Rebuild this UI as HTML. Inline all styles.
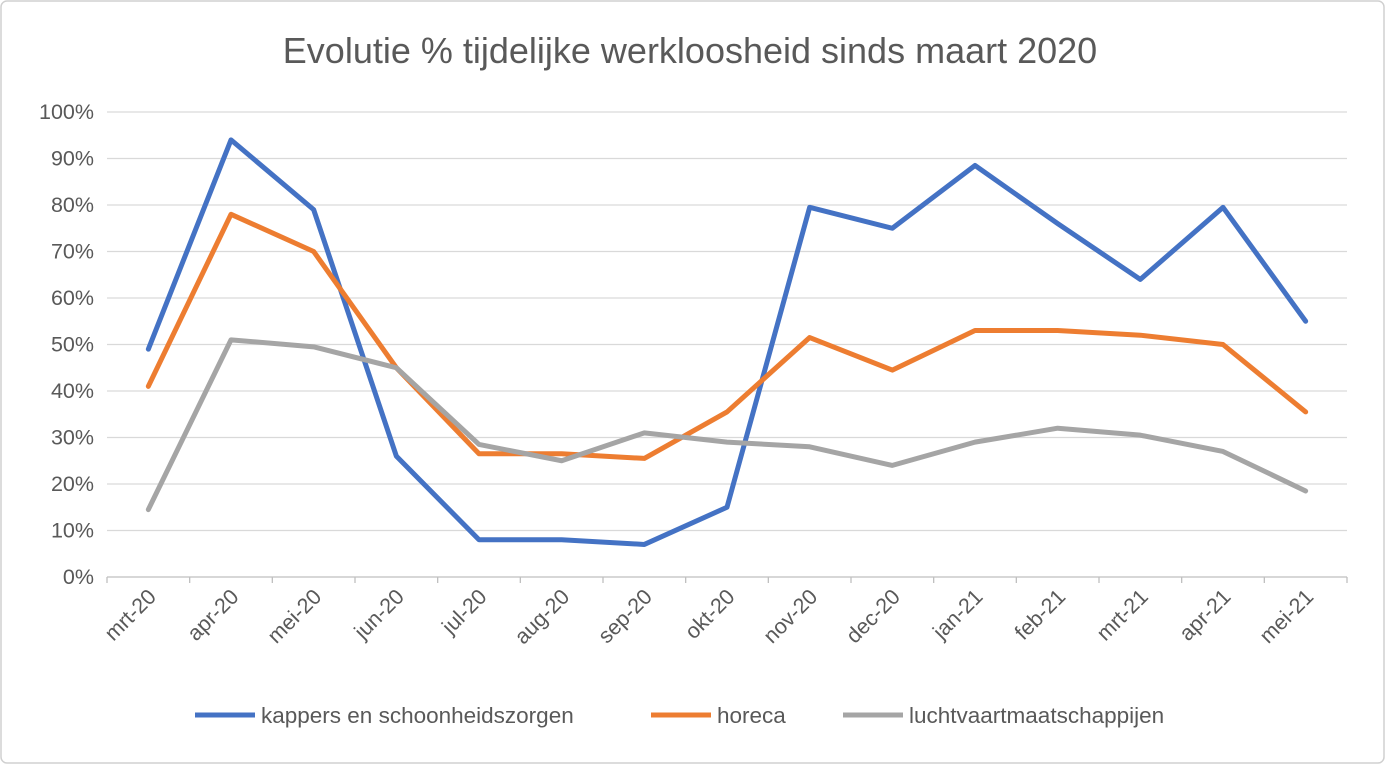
<!DOCTYPE html>
<html><head><meta charset="utf-8"><style>
html,body{margin:0;padding:0;background:#fff;}
svg{display:block;font-family:"Liberation Sans",Arial,sans-serif;}
</style></head><body>
<svg id="chart" width="1386" height="765">
<rect x="1" y="1" width="1383" height="762" rx="6" fill="#fff" stroke="#d0d0d0" stroke-width="1.5"/>
<text x="690" y="63" text-anchor="middle" font-size="36" fill="#595959">Evolutie % tijdelijke werkloosheid sinds maart 2020</text>
<g id="grid"></g>
<g id="yaxis"></g>
<g id="xaxis"></g>
<g id="series"></g>
<g id="legend"></g>
</svg>
<script>
const categories=["mrt-20","apr-20","mei-20","jun-20","jul-20","aug-20","sep-20","okt-20","nov-20","dec-20","jan-21","feb-21","mrt-21","apr-21","mei-21"];
const kappers=[49,94,79,26,8,8,7,15,79.5,75,88.5,76,64,79.5,55];
const horeca=[41,78,70,45,26.5,26.5,25.5,35.5,51.5,44.5,53,53,52,50,35.5];
const luchtvaart=[14.5,51,49.5,45,28.5,25,31,29,28,24,29,32,30.5,27,18.5];
const yTicks=[0,10,20,30,40,50,60,70,80,90,100];
const seriesNames=["kappers en schoonheidszorgen","horeca","luchtvaartmaatschappijen"];
const seriesColors=["#4472c4","#ed7d31","#a5a5a5"];

const NS="http://www.w3.org/2000/svg";
const L=107,R=1347,T=112,B=577;
const band=(R-L)/categories.length;
const x=i=>L+band*(i+0.5);
const y=v=>B-(v/100)*(B-T);
function mk(tag,attrs,parent,text){const e=document.createElementNS(NS,tag);for(const k in attrs)e.setAttribute(k,attrs[k]);if(text!==undefined)e.textContent=text;parent.appendChild(e);return e;}
const grid=document.getElementById('grid'),ya=document.getElementById('yaxis'),xa=document.getElementById('xaxis'),sg=document.getElementById('series'),lg=document.getElementById('legend');
yTicks.forEach(t=>{
 const ln=mk('line',{x1:L,x2:R,y1:y(t),y2:y(t),stroke:t===0?'#bfbfbf':'#d9d9d9','stroke-width':1.3},grid);
 
 
 const tx=mk('text',{x:L-13,y:y(t)+7,'text-anchor':'end','font-size':21.5,fill:'#595959'},ya,t+'%');
 
 
});
for(let i=0;i<=categories.length;i++){
 const tk=mk('line',{x1:L+band*i,x2:L+band*i,y1:B,y2:B+6,stroke:'#bfbfbf','stroke-width':1.3},xa);
 
 
}
categories.forEach((c,i)=>{
 const tx=mk('text',{x:x(i)+9,y:B+21,'text-anchor':'end','font-size':21.5,fill:'#595959',transform:`rotate(-45 ${x(i)+9} ${B+21})`},xa,c);
 
 
});
[kappers,horeca,luchtvaart].forEach((arr,s)=>{
 const p=mk('polyline',{points:arr.map((v,i)=>x(i)+','+y(v)).join(' '),fill:'none',stroke:seriesColors[s],'stroke-width':5,'stroke-linejoin':'round','stroke-linecap':'round'},sg);
 
 
});
const lx=[195,651,843];
seriesNames.forEach((n,s)=>{
 const g=mk('g',{},lg);
 
 
 mk('line',{x1:lx[s],x2:lx[s]+60,y1:715,y2:715,stroke:seriesColors[s],'stroke-width':5},g);
 mk('text',{x:lx[s]+66,y:723,'font-size':22.5,fill:'#595959'},g,n);
});
</script>
</body></html>
